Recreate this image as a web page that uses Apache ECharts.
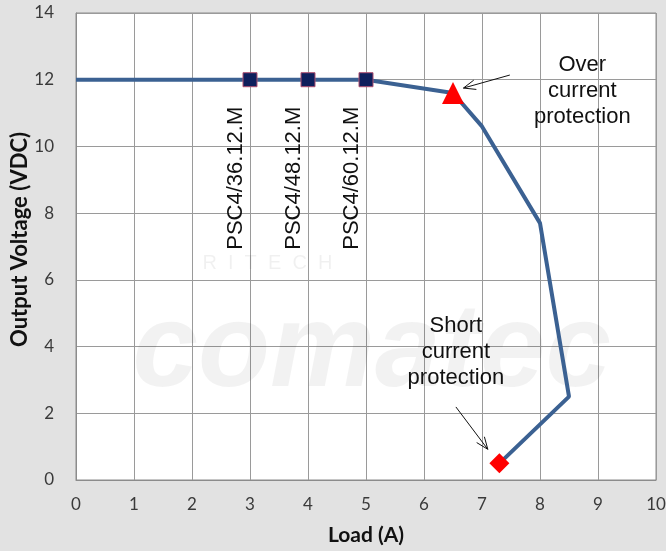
<!DOCTYPE html>
<html>
<head>
<meta charset="utf-8">
<script src="https://cdn.jsdelivr.net/npm/echarts@6/dist/echarts.min.js"></script>
<style>
  html, body { margin: 0; padding: 0; background: #e2e2e2; }
  #chart { width: 666px; height: 551px; }
</style>
</head>
<body>
<div id="chart"></div>
<script>
// output curve (load in A, voltage in VDC)
var loadA = [0, 3, 4, 5, 6.5, 7, 8, 8.5, 7.3];
var voltage = [12, 12, 12, 12, 11.6, 10.6, 7.7, 2.5, 0.5];

// rated load of each model
var modelLoads = [3, 4, 5];
var modelVolts = [12, 12, 12];
var modelNames = ["PSC4/36.12.M", "PSC4/48.12.M", "PSC4/60.12.M"];

var ocpPoint = [6.5, 11.6];
var scpPoint = [7.3, 0.5];

var xTicks = [0, 1, 2, 3, 4, 5, 6, 7, 8, 9, 10];
var yTicks = [0, 2, 4, 6, 8, 10, 12, 14];

var chartDom = document.getElementById("chart");
var myChart = echarts.init(chartDom);

var tickFont = { fontFamily: "Lato", fontSize: 17, color: "#3a3a3a" };

var option = {
  backgroundColor: "#e2e2e2",
  animation: false,
  grid: {
    left: 76,
    right: 10,
    top: 13,
    bottom: 71,
    outerBoundsMode: "none",
    containLabel: false,
    show: true,
    backgroundColor: "#ffffff",
    borderColor: "#8c8c8c",
    borderWidth: 1,
  },
  xAxis: {
    type: "value",
    min: xTicks[0],
    max: xTicks[xTicks.length - 1],
    interval: 1,
    name: "Load (A)",
    nameLocation: "middle",
    nameGap: 45,
    nameTextStyle: { fontFamily: "Lato", fontSize: 21, fontWeight: "bold", color: "#111" },
    axisLine: { lineStyle: { color: "#8c8c8c" } },
    axisTick: { show: false },
    axisLabel: Object.assign({ margin: 16 }, tickFont),
    splitLine: { lineStyle: { color: "#9a9a9a", width: 1 } },
  },
  yAxis: {
    type: "value",
    min: yTicks[0],
    max: yTicks[yTicks.length - 1],
    interval: 2,
    name: "Output Voltage (VDC)",
    nameLocation: "middle",
    nameGap: 45,
    nameMoveOverlap: false,
    nameTextStyle: { fontFamily: "Lato", fontSize: 22, fontWeight: "bold", color: "#111", padding: [0, 0, 0, 14] },
    axisLine: { show: true, lineStyle: { color: "#8c8c8c" } },
    axisTick: { show: false },
    axisLabel: Object.assign({ margin: 22 }, tickFont),
    splitLine: { lineStyle: { color: "#9a9a9a", width: 1 } },
  },
  series: [
    {
      name: "Output",
      type: "line",
      data: loadA.map(function (x, i) { return [x, voltage[i]]; }),
      showSymbol: false,
      lineStyle: { color: "#3b6192", width: 4 },
      z: 3,
    },
    {
      name: "Models",
      type: "scatter",
      symbol: "rect",
      symbolSize: 14,
      data: modelLoads.map(function (x, i) { return [x, modelVolts[i]]; }),
      itemStyle: { color: "#0e1f5c", borderColor: "#b05070", borderWidth: 1, opacity: 1 },
      z: 4,
    },
    {
      name: "Over current",
      type: "scatter",
      symbol: "triangle",
      symbolSize: 22,
      data: [ocpPoint],
      itemStyle: { color: "#ff0000", opacity: 1 },
      z: 4,
    },
    {
      name: "Short current",
      type: "scatter",
      symbol: "diamond",
      symbolSize: 20,
      data: [scpPoint],
      itemStyle: { color: "#ff0000", opacity: 1 },
      z: 4,
    },
  ],
};

myChart.setOption(option);

function px(p) {
  return myChart.convertToPixel({ gridIndex: 0 }, p);
}

function arrow(from, to) {
  var a = px(from), b = px(to);
  var ang = Math.atan2(a[1] - b[1], a[0] - b[0]);
  var len = 13, spread = 0.38;
  var h1 = [b[0] + len * Math.cos(ang + spread), b[1] + len * Math.sin(ang + spread)];
  var h2 = [b[0] + len * Math.cos(ang - spread), b[1] + len * Math.sin(ang - spread)];
  return [
    { type: "line", z: 10, shape: { x1: a[0], y1: a[1], x2: b[0], y2: b[1] }, style: { stroke: "#111", lineWidth: 1 } },
    { type: "polyline", z: 10, shape: { points: [h1, b, h2] }, style: { stroke: "#111", lineWidth: 1, fill: null } },
  ];
}

var textStyle = { fontFamily: "Liberation Sans", fontSize: 22, fill: "#111", lineHeight: 26 };

var graphics = [];

// faint watermark
var wm = px([5.1, 3.8]);
graphics.push({
  type: "text", z: 1, x: wm[0], y: wm[1],
  style: { text: "comatec", fontFamily: "Liberation Sans", fontSize: 118, fontWeight: "bold", fontStyle: "italic",
    fill: "rgba(0,0,0,0.05)", align: "center", verticalAlign: "middle" },
});
var wm2 = px([3.3, 6.5]);
graphics.push({
  type: "text", z: 1, x: wm2[0], y: wm2[1],
  style: { text: "R  I  T  E  C  H", fontFamily: "Liberation Sans", fontSize: 20,
    fill: "rgba(0,0,0,0.06)", align: "center", verticalAlign: "middle" },
});

// rotated model labels
modelLoads.forEach(function (x, i) {
  var p = px([x, modelVolts[i]]);
  graphics.push({
    type: "text", z: 10, x: p[0] - 14, y: p[1] + 27, rotation: Math.PI / 2,
    style: Object.assign({ text: modelNames[i], align: "right", verticalAlign: "middle" }, textStyle),
  });
});

var t1 = px([8.73, 11.65]);
graphics.push({
  type: "text", z: 10, x: t1[0], y: t1[1],
  style: Object.assign({ text: "Over\ncurrent\nprotection", align: "center", verticalAlign: "middle" }, textStyle),
});
var t2 = px([6.55, 3.85]);
graphics.push({
  type: "text", z: 10, x: t2[0], y: t2[1],
  style: Object.assign({ text: "Short\ncurrent\nprotection", align: "center", verticalAlign: "middle" }, textStyle),
});

graphics = graphics.concat(arrow([7.48, 12.14], [6.68, 11.75]));
graphics = graphics.concat(arrow([6.55, 2.19], [7.1, 0.92]));

myChart.setOption({ graphic: graphics });
</script>
</body>
</html>
